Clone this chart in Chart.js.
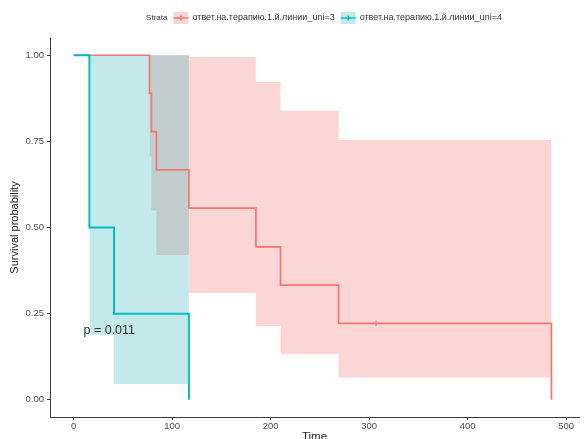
<!DOCTYPE html>
<html lang="ru">
<head>
<meta charset="UTF-8">
<title>Survival curves</title>
<script src="https://cdn.jsdelivr.net/npm/chart.js"></script>
<style>
  body { margin: 0; background: #fff; }
  #km { display: block; }
</style>
</head>
<body>
<canvas id="km" width="584" height="439"></canvas>
<script>
// strata names
const strata = ['ответ.на.терапию.1.й.линии_uni=3', 'ответ.на.терапию.1.й.линии_uni=4'];

// uni=3 : Kaplan-Meier steps
const time3 = [0, 77, 79, 84, 117, 185, 210, 269, 485];
const surv3 = [1, 0.889, 0.778, 0.667, 0.556, 0.444, 0.333, 0.222, 0];
// uni=3 : confidence band
const bandTime3 = [77, 79, 84, 117, 185, 210, 269, 485];
const upper3 = [1, 1, 1, 0.995, 0.922, 0.839, 0.754, 0.754];
const lower3 = [0.706, 0.549, 0.42, 0.31, 0.214, 0.132, 0.065, 0.065];
// uni=3 : censored
const censorTime3 = [307];
const censorSurv3 = [0.222];

// uni=4 : Kaplan-Meier steps
const time4 = [0, 16, 41, 117];
const surv4 = [1, 0.5, 0.25, 0];
// uni=4 : confidence band
const bandTime4 = [16, 41, 117];
const upper4 = [1, 1, 1];
const lower4 = [0.188, 0.046, 0.046];

const xTicks = [0, 100, 200, 300, 400, 500];
const yTicks = [0, 0.25, 0.5, 0.75, 1];
const pValue = 'p = 0.011';

const redLine = '#F8766D';
const tealLine = '#00BFC4';
const redFill = 'rgba(245, 118, 115, 0.3)';
const tealFill = 'rgba(62, 185, 188, 0.31)';
const axisColor = '#3a3a3a';
const tickColor = '#4d4d4d';
const fontFamily = '"Liberation Sans", Arial, Helvetica, sans-serif';

Chart.defaults.font.family = fontFamily;

function toPoints(xs, ys) {
    return xs.map((x, i) => ({ x: x, y: ys[i] }));
}

// band datasets draw only a fill
function band(values, fill, order) {
    return {
        data: values,
        fill: fill,
        backgroundColor: fill ? (order > 4 ? redFill : tealFill) : 'transparent',
        borderColor: 'transparent',
        borderWidth: 0,
        pointRadius: 0,
        stepped: true,
        order: order
    };
}

// legend at the top and the p-value label
const annotate = {
    id: 'annotate',
    afterDraw(chart) {
        const { ctx, scales: { x, y } } = chart;
        ctx.save();

        ctx.font = '12.5px ' + fontFamily;
        ctx.fillStyle = '#333';
        ctx.textAlign = 'left';
        ctx.textBaseline = 'middle';
        ctx.fillText(pValue, x.getPixelForValue(10), y.getPixelForValue(0.2));

        const keyW = 15, keyH = 12, legendY = 18;
        ctx.font = '8px ' + fontFamily;
        const wTitle = ctx.measureText('Strata').width;
        ctx.font = '9px ' + fontFamily;
        const wItems = strata.map(s => ctx.measureText(s).width);
        const total = wTitle + 6 + wItems.reduce((a, w) => a + keyW + 4 + w, 0) + 6;
        let cx = 324 - total / 2;

        ctx.font = '8px ' + fontFamily;
        ctx.fillStyle = '#333';
        ctx.fillText('Strata', cx, legendY);
        cx += wTitle + 6;

        ctx.font = '9px ' + fontFamily;
        const keys = [[redFill, redLine], [tealFill, tealLine]];
        strata.forEach((s, i) => {
            ctx.fillStyle = keys[i][0];
            ctx.fillRect(cx, legendY - keyH / 2, keyW, keyH);
            ctx.strokeStyle = keys[i][1];
            ctx.lineWidth = 1.5;
            ctx.beginPath();
            ctx.moveTo(cx, legendY);
            ctx.lineTo(cx + keyW, legendY);
            ctx.moveTo(cx + keyW / 2, legendY - 2.5);
            ctx.lineTo(cx + keyW / 2, legendY + 2.5);
            ctx.stroke();
            cx += keyW + 4;
            ctx.fillStyle = '#333';
            ctx.fillText(s, cx, legendY);
            cx += wItems[i] + 6;
        });

        ctx.restore();
    }
};

new Chart(document.getElementById('km'), {
    type: 'line',
    data: {
        datasets: [
            band(toPoints(bandTime3, upper3), '+1', 6),
            band(toPoints(bandTime3, lower3), false, 5),
            band(toPoints(bandTime4, upper4), '+1', 4),
            band(toPoints(bandTime4, lower4), false, 3),
            {
                label: strata[0],
                data: toPoints(time3, surv3),
                borderColor: redLine,
                borderWidth: 1.7,
                pointRadius: 0,
                stepped: true,
                fill: false,
                order: 2
            },
            {
                label: strata[1],
                data: toPoints(time4, surv4),
                borderColor: tealLine,
                borderWidth: 2,
                pointRadius: 0,
                stepped: true,
                fill: false,
                order: 1
            },
            {
                label: 'censor',
                data: toPoints(censorTime3, censorSurv3),
                showLine: false,
                pointStyle: 'cross',
                pointRadius: 3,
                borderColor: redLine,
                borderWidth: 1,
                order: 0
            }
        ]
    },
    options: {
        responsive: false,
        animation: false,
        events: [],
        layout: { padding: { top: 38, right: 2, left: 0, bottom: 0 } },
        plugins: {
            legend: { display: false },
            tooltip: { enabled: false }
        },
        scales: {
            x: {
                type: 'linear',
                min: -24,
                max: 513,
                afterBuildTicks: s => { s.ticks = xTicks.map(v => ({ value: v })); },
                afterFit: s => { s.height = 22; },
                grid: { drawOnChartArea: false, drawTicks: true, tickLength: 3, color: axisColor },
                border: { display: true, color: axisColor, width: 1 },
                ticks: { color: tickColor, font: { size: 9.5 }, padding: 1, maxRotation: 0, autoSkip: false, callback: v => String(v) },
                title: { display: true, text: 'Time', color: '#222', font: { size: 11.5 }, padding: { top: 0, bottom: -5 } }
            },
            y: {
                type: 'linear',
                min: -0.05,
                max: 1.05,
                afterBuildTicks: s => { s.ticks = yTicks.map(v => ({ value: v })); },
                afterFit: s => { s.width = 50; },
                grid: { drawOnChartArea: false, drawTicks: true, tickLength: 3, color: axisColor },
                border: { display: true, color: axisColor, width: 1 },
                ticks: { color: tickColor, font: { size: 9.5 }, padding: 3, callback: v => v.toFixed(2) },
                title: { display: true, text: 'Survival probability', color: '#222', font: { size: 11 }, padding: { top: 8, bottom: 0 } }
            }
        }
    },
    plugins: [annotate]
});
</script>
</body>
</html>
